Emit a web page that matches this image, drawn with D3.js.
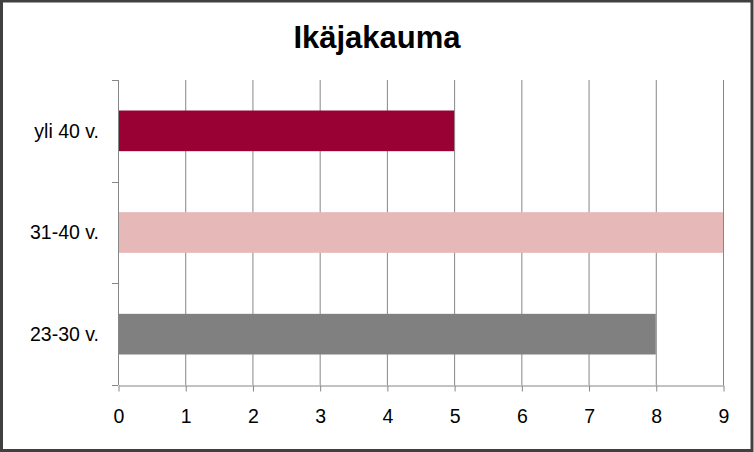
<!DOCTYPE html>
<html>
<head>
<meta charset="utf-8">
<script src="https://cdn.jsdelivr.net/npm/d3@7"></script>
<style>
  html, body { margin: 0; padding: 0; background: #fff; }
  svg { display: block; }
</style>
</head>
<body>
<div id="chart"></div>
<script>
const title = "Ikäjakauma";
const categories = ["yli 40 v.", "31-40 v.", "23-30 v."];
const values = [5, 9, 8];
const barColors = ["#990033", "#E6B9B8", "#808080"];
const xTicks = [0, 1, 2, 3, 4, 5, 6, 7, 8, 9];

const width = 754, height = 452;
const margins = {top: 80, right: 31, bottom: 67, left: 118};

const svg = d3.select("#chart")
  .append("svg")
  .attr("width", width)
  .attr("height", height);

// outer frame
svg.append("rect")
  .attr("x", 1.5)
  .attr("y", 1)
  .attr("width", width - 3.5)
  .attr("height", height - 2.5)
  .attr("fill", "#fff")
  .attr("stroke", "#404040")
  .attr("stroke-width", 3);

svg.append("text")
  .attr("x", 377)
  .attr("y", 48)
  .attr("text-anchor", "middle")
  .style("font-family", "Liberation Sans, Arial, sans-serif")
  .style("font-weight", "bold")
  .style("font-size", "31px")
  .text(title);

const xScale = d3.scaleLinear()
  .domain([0, 9])
  .range([margins.left, width - margins.right]);

const yScale = d3.scaleBand()
  .domain(categories)
  .range([margins.top, height - margins.bottom])
  .paddingInner(0.6)
  .paddingOuter(0.3);

// gridlines
svg.append("g")
  .selectAll("line")
  .data(xTicks.slice(1))
  .join("line")
    .attr("x1", d => xScale(d) + 0.5)
    .attr("x2", d => xScale(d) + 0.5)
    .attr("y1", margins.top)
    .attr("y2", height - margins.bottom)
    .attr("stroke", "#868686")
    .attr("stroke-width", 1);

svg.append("g")
  .selectAll("rect")
  .data(categories)
  .join("rect")
    .attr("x", xScale(0))
    .attr("y", d => yScale(d))
    .attr("width", (d, i) => xScale(values[i]) - xScale(0))
    .attr("height", yScale.bandwidth())
    .attr("fill", (d, i) => barColors[i]);

// y axis with ticks at category boundaries
const step = yScale.step();
const yBounds = d3.range(categories.length + 1).map(i => margins.top + i * step);
const yG = svg.append("g");
yG.append("line")
  .attr("x1", xScale(0) + 0.5).attr("x2", xScale(0) + 0.5)
  .attr("y1", margins.top).attr("y2", height - margins.bottom)
  .attr("stroke", "#868686");
yG.selectAll("line.tick")
  .data(yBounds)
  .join("line")
    .attr("class", "tick")
    .attr("x1", xScale(0) - 6).attr("x2", xScale(0))
    .attr("y1", d => Math.round(d) + 0.5).attr("y2", d => Math.round(d) + 0.5)
    .attr("stroke", "#868686");
yG.selectAll("text")
  .data(categories)
  .join("text")
    .attr("x", 99)
    .attr("y", d => yScale(d) + yScale.bandwidth() / 2)
    .attr("dy", "0.35em")
    .attr("text-anchor", "end")
    .style("font-family", "Liberation Sans, Arial, sans-serif")
    .style("font-size", "19.5px")
    .text(d => d);

const xAxis = d3.axisBottom(xScale)
  .tickValues(xTicks)
  .tickSize(6)
  .tickSizeOuter(0)
  .tickFormat(d3.format("d"));

svg.append("g")
  .attr("transform", `translate(0.5,${height - margins.bottom + 0.5})`)
  .call(xAxis)
  .call(g => g.select(".domain").attr("stroke", "#868686"))
  .call(g => g.selectAll(".tick line").attr("stroke", "#868686"))
  .call(g => g.selectAll(".tick text")
    .attr("y", 24)
    .attr("fill", "#000")
    .style("font-family", "Liberation Sans, Arial, sans-serif")
    .style("font-size", "19.5px"));
</script>
</body>
</html>
